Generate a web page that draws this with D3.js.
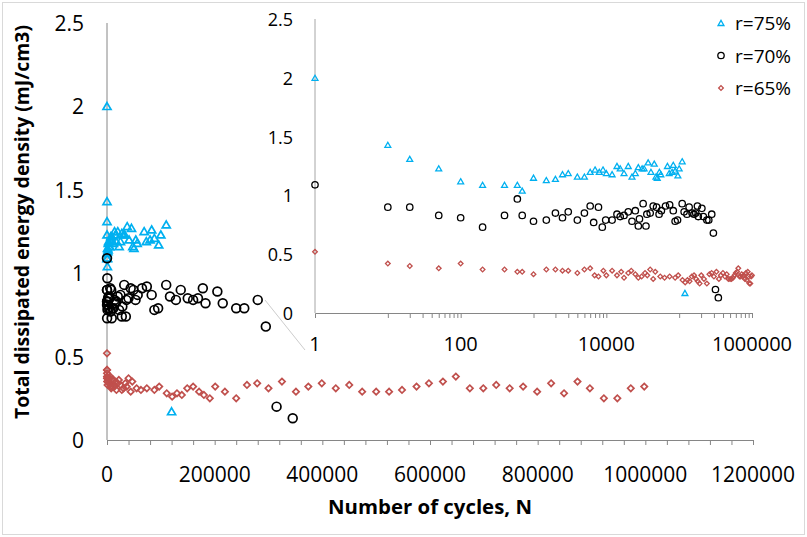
<!DOCTYPE html>
<html>
<head>
<meta charset="utf-8">
<script src="https://cdn.jsdelivr.net/npm/d3@7"></script>
<style>
  body { margin: 0; background: #fff; }
  text { font-family: "Open Sans", "Liberation Sans", sans-serif; fill: #000; }
</style>
</head>
<body>
<script>
// r=75%
const n75 = [1, 10, 20, 50, 100, 200, 400, 600, 700, 1000, 1500, 2000, 2500, 3000, 4000, 5000, 6000, 7000, 8000, 9000,
  10000, 12000, 14000, 15500, 17500, 20000, 22500, 25000, 27500, 31000, 33000, 37500, 41000, 45500, 48000, 50000,
  53500, 56000, 69000, 73000, 80000, 83000, 88000, 96000, 100000, 110000, 120000];
const e75 = [2.00, 1.43, 1.31, 1.23, 1.12, 1.09, 1.09, 1.09, 1.04, 1.15, 1.13, 1.14, 1.18, 1.19, 1.16, 1.16, 1.20, 1.22, 1.20, 1.22,
  1.19, 1.18, 1.25, 1.23, 1.19, 1.25, 1.16, 1.19, 1.24, 1.23, 1.23, 1.28, 1.20, 1.27, 1.16, 1.15,
  1.20, 1.18, 1.25, 1.19, 1.20, 1.26, 1.21, 1.17, 1.23, 1.29, 0.17];

// r=70%
const n70 = [1, 10, 20, 50, 100, 200, 400, 600, 700, 1000, 1500, 2000, 2500, 3000, 4000, 5000, 6000, 6700, 7800, 8800,
  9800, 12000, 14000, 15500, 17500, 20000, 22500, 25000, 27500, 28500, 32000, 35000, 36000, 40000, 44000, 49000,
  53000, 57000, 65000, 74000, 83000, 88000, 95000, 110000, 117000, 128000, 137000, 150000, 160000, 169000, 178000,
  183000, 205000, 215000, 240000, 255000, 280000, 295000, 315000, 345000];
const e70 = [1.09, 0.90, 0.90, 0.83, 0.81, 0.73, 0.83, 0.97, 0.83, 0.78, 0.79, 0.85, 0.81, 0.86, 0.79, 0.85, 0.91, 0.77, 0.90, 0.73,
  0.79, 0.79, 0.84, 0.82, 0.83, 0.86, 0.78, 0.87, 0.74, 0.80, 0.93, 0.74, 0.84, 0.85, 0.91, 0.90,
  0.84, 0.87, 0.91, 0.92, 0.87, 0.78, 0.79, 0.93, 0.86, 0.84, 0.90, 0.85, 0.84, 0.85, 0.91,
  0.82, 0.89, 0.82, 0.79, 0.79, 0.84, 0.68, 0.20, 0.13];

// r=65%
const n65 = [1, 10, 20, 50, 100, 200, 400, 600, 700, 1000, 1500, 2000, 2500, 3000, 4000, 5000, 6000, 6900, 7800, 9100,
  10000, 12000, 14000, 16000, 17500, 20000, 22000, 25000, 27500, 30500, 34000, 36500, 40000, 44000, 47000, 55000,
  63000, 74000, 88000, 97000, 111000, 121000, 130000, 139000, 149000, 160000, 171000, 180000, 191000, 201000,
  219000, 240000, 260000, 279000, 300000, 325000, 351000, 374000, 399000, 425000, 450000, 474000, 500000, 524000,
  548000, 575000, 598000, 624000, 648000, 674000, 699000, 723000, 748000, 773000, 799000, 825000, 849000, 874000,
  897000, 923000, 948000, 973000, 998000];
const e65 = [0.52, 0.42, 0.40, 0.38, 0.42, 0.37, 0.37, 0.35, 0.35, 0.33, 0.37, 0.37, 0.36, 0.36, 0.34, 0.37, 0.38, 0.32, 0.31, 0.36,
  0.32, 0.36, 0.32, 0.35, 0.30, 0.34, 0.36, 0.33, 0.30, 0.31, 0.34, 0.32, 0.37, 0.29, 0.35, 0.31,
  0.30, 0.31, 0.30, 0.32, 0.28, 0.26, 0.28, 0.27, 0.31, 0.32, 0.29, 0.27, 0.25, 0.32,
  0.29, 0.25, 0.33, 0.34, 0.31, 0.35, 0.29, 0.32, 0.34, 0.31, 0.33, 0.29, 0.29, 0.29,
  0.30, 0.32, 0.34, 0.35, 0.38, 0.31, 0.31, 0.33, 0.31, 0.32, 0.29, 0.34, 0.28, 0.35,
  0.31, 0.25, 0.25, 0.31, 0.32];

const seriesNames = ['r=75%', 'r=70%', 'r=65%'];
const yTicks = [0, 0.5, 1, 1.5, 2, 2.5];
const xTicksMain = [0, 200000, 400000, 600000, 800000, 1000000, 1200000];
const xTicksInset = [1, 100, 10000, 1000000];

const W = 807, H = 537;
const svg = d3.select('body').append('svg')
  .attr('width', W)
  .attr('height', H);

svg.append('rect')
  .attr('x', 2.5).attr('y', 2.5)
  .attr('width', W - 5).attr('height', H - 5)
  .attr('fill', '#fff')
  .attr('stroke', '#d9d9d9');

const zip = (n, e) => n.map((d, i) => ({ n: d, e: e[i] }));
const series = [
  { name: seriesNames[0], data: zip(n75, e75), shape: 'tri', color: '#00b0f0' },
  { name: seriesNames[1], data: zip(n70, e70), shape: 'circ', color: '#000' },
  { name: seriesNames[2], data: zip(n65, e65), shape: 'dia', color: '#c0504d' },
];

// big = main chart markers, small = inset / legend
function drawMarks(g, d, s, x, y, big) {
  const sel = g.selectAll(null).data(d).enter();
  const sw = big ? 1.7 : 1.3;
  if (s.shape === 'circ') {
    sel.append('circle')
      .attr('cx', p => x(p.n)).attr('cy', p => y(p.e))
      .attr('r', big ? 4.4 : 3.2)
      .attr('fill', 'none').attr('stroke', s.color).attr('stroke-width', sw);
  } else {
    const sym = s.shape === 'tri'
      ? d3.symbol(d3.symbolTriangle, big ? 28 : 15)
      : d3.symbol(d3.symbolSquare, big ? 20 : 11);
    sel.append('path')
      .attr('d', sym)
      .attr('transform', p => `translate(${x(p.n)},${y(p.e) + (s.shape === 'tri' ? 0.8 : 0)}) rotate(${s.shape === 'dia' ? 45 : 0})`)
      .attr('fill', 'none').attr('stroke', s.color).attr('stroke-width', sw);
  }
}

// ---- main chart (linear)
const x = d3.scaleLinear().domain([0, 1200000]).range([107, 753]);
const y = d3.scaleLinear().domain([0, 2.5]).range([440, 23]);

const gx = svg.append('g')
  .attr('transform', `translate(0,${y(0)})`)
  .call(d3.axisBottom(x).tickValues(d3.range(0, 1200001, 40000)).tickSize(5).tickFormat(''));
gx.select('.domain').attr('stroke', '#868686');
gx.selectAll('.tick line').attr('stroke', '#868686');

svg.append('line')
  .attr('x1', x(0)).attr('x2', x(0))
  .attr('y1', y(2.5)).attr('y2', y(0))
  .attr('stroke', '#868686');

svg.append('g').selectAll('text')
  .data(xTicksMain).enter().append('text')
  .attr('x', d => x(d)).attr('y', 474)
  .attr('text-anchor', 'middle').attr('dominant-baseline', 'central')
  .style('font-size', '21px')
  .text(d => d);

svg.append('g').selectAll('text')
  .data(yTicks).enter().append('text')
  .attr('x', 84).attr('y', d => y(d))
  .attr('text-anchor', 'end').attr('dominant-baseline', 'central')
  .style('font-size', '21px')
  .text(d => d);

series.forEach(s => drawMarks(svg.append('g'), s.data, s, x, y, true));

// ---- inset (log)
const xi = d3.scaleLog().domain([1, 1000000]).range([315, 752]);
const yi = d3.scaleLinear().domain([0, 2.5]).range([313, 19]);

// connector line
svg.append('line')
  .attr('x1', 265).attr('y1', 300).attr('x2', 305).attr('y2', 350)
  .attr('stroke', '#bfbfbf').attr('stroke-width', 0.8);

const minorTicks = [];
[1, 100, 10000].forEach(b => d3.range(10, 101, 10).forEach(m => minorTicks.push(b * m)));
const gxi = svg.append('g')
  .attr('transform', `translate(0,${yi(0)})`)
  .call(d3.axisBottom(xi).tickValues(minorTicks).tickSize(5).tickFormat(''));
gxi.select('.domain').attr('stroke', '#868686');
gxi.selectAll('.tick line').attr('stroke', '#868686');

svg.append('line')
  .attr('x1', xi(1)).attr('x2', xi(1))
  .attr('y1', yi(2.5)).attr('y2', yi(0))
  .attr('stroke', '#a6a6a6');

svg.append('g').selectAll('text')
  .data(xTicksInset).enter().append('text')
  .attr('x', d => xi(d)).attr('y', 343)
  .attr('text-anchor', 'middle').attr('dominant-baseline', 'central')
  .style('font-size', '20px')
  .text(d => d);

svg.append('g').selectAll('text')
  .data(yTicks).enter().append('text')
  .attr('x', 293).attr('y', d => yi(d))
  .attr('text-anchor', 'end').attr('dominant-baseline', 'central')
  .style('font-size', '18px')
  .text(d => d);

series.forEach(s => drawMarks(svg.append('g'), s.data, s, xi, yi, false));

// ---- axis titles
svg.append('text')
  .attr('transform', 'translate(22,222) rotate(-90)')
  .attr('text-anchor', 'middle').attr('dominant-baseline', 'central')
  .attr('textLength', 394).attr('lengthAdjust', 'spacingAndGlyphs')
  .style('font-size', '19px').style('font-weight', 'bold')
  .text('Total dissipated energy density (mJ/cm3)');

svg.append('text')
  .attr('x', 430).attr('y', 507)
  .attr('text-anchor', 'middle').attr('dominant-baseline', 'central')
  .attr('textLength', 204).attr('lengthAdjust', 'spacingAndGlyphs')
  .style('font-size', '19px').style('font-weight', 'bold')
  .text('Number of cycles, N');

// ---- legend
const legend = svg.append('g');
series.forEach((s, i) => {
  const ly = 23 + i * 32.5;
  drawMarks(legend, [{ n: 0, e: 0 }], s, () => 721, () => ly, false);
  legend.append('text')
    .attr('x', 735).attr('y', ly)
    .attr('dominant-baseline', 'central')
    .style('font-size', '19px')
    .text(s.name);
});
</script>
</body>
</html>
